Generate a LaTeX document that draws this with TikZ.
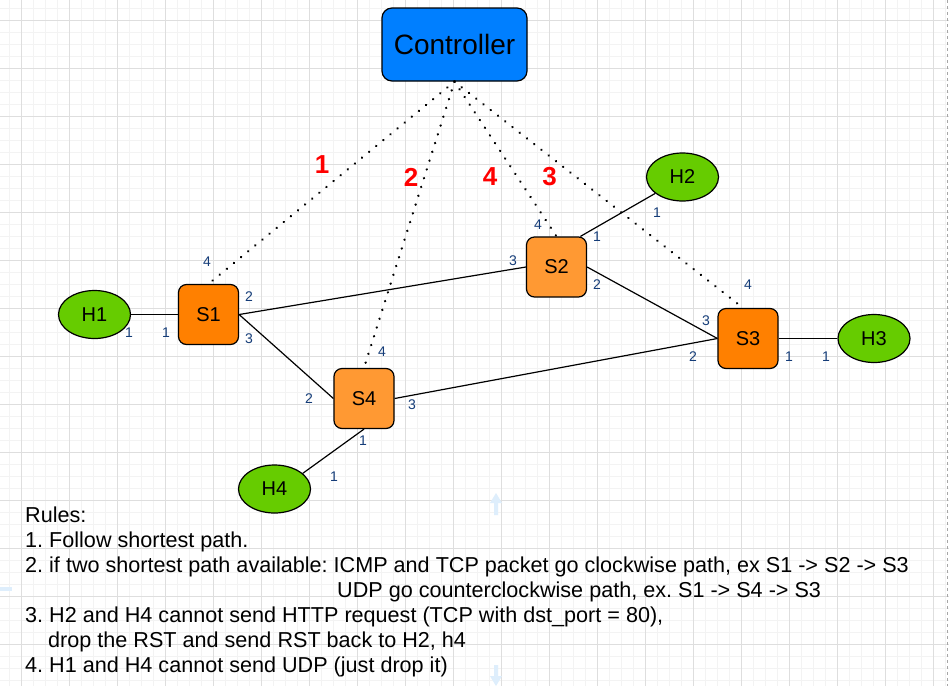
\documentclass[tikz,border=0pt]{standalone}
\usepackage{fontspec}
\setmainfont{Liberation Sans}
\usetikzlibrary{shapes.geometric,calc}
\definecolor{ctrlblue}{RGB}{0,127,255}
\definecolor{swdark}{RGB}{255,128,0}
\definecolor{swlight}{RGB}{255,153,51}
\definecolor{hostgreen}{RGB}{102,204,0}
\definecolor{portblue}{RGB}{20,60,120}
\definecolor{gridmajor}{RGB}{222,222,222}
\definecolor{gridminor}{RGB}{243,243,243}
\definecolor{ghostblue}{RGB}{222,238,252}
\tikzset{
  swbox/.style={rectangle, rounded corners=8pt, draw=black, line width=1.2pt,
    minimum width=60pt, minimum height=60pt, inner sep=0pt,
    font=\fontsize{20}{24}\selectfont},
  host/.style={ellipse, draw=black, line width=1.2pt, fill=hostgreen,
    minimum width=72pt, minimum height=48pt, inner sep=0pt,
    font=\fontsize{20}{24}\selectfont},
  port/.style={font=\fontsize{14}{16}\selectfont, text=portblue, inner sep=0pt},
  link/.style={draw=black, line width=1.2pt},
  ctlink/.style={draw=black, line width=2.6pt, dash pattern=on 0.01pt off 9.2pt, line cap=round},
  order/.style={font=\bfseries\fontsize{26}{30}\selectfont, text=red, inner sep=0pt},
  rule/.style={anchor=base west, inner sep=0pt, font=\fontsize{21.6}{25}\selectfont},
}
\begin{document}
\frenchspacing
\begin{tikzpicture}[x=1pt,y=-1pt]
\useasboundingbox (0,0) rectangle (949,686);
\fill[white] (0,0) rectangle (949,686);
% grid
\foreach \x in {9,21,...,945} \draw[gridminor, line width=1pt] (\x,0) -- (\x,686);
\foreach \y in {8,20,...,686} \draw[gridminor, line width=1pt] (0,\y) -- (949,\y);
\foreach \x in {21,69,...,945} \draw[gridmajor, line width=1pt] (\x,0) -- (\x,686);
\foreach \y in {20,68,...,686} \draw[gridmajor, line width=1pt] (0,\y) -- (949,\y);
\draw[gray!70, line width=1pt, dash pattern=on 3pt off 3pt] (947,0) -- (947,686);
% ghost arrows
\fill[ghostblue] (496,493) -- (502,503) -- (498,503) -- (498,515) -- (494,515) -- (494,503) -- (490,503) -- cycle;
\fill[ghostblue] (496,686) -- (502,676) -- (498,676) -- (498,665) -- (494,665) -- (494,676) -- (490,676) -- cycle;
\fill[ghostblue] (0,587) rectangle (12,591);

% nodes
\node[rectangle, rounded corners=10pt, draw=black, line width=1.2pt, fill=ctrlblue,
  minimum width=145pt, minimum height=73pt, inner sep=0pt,
  font=\fontsize{28}{32}\selectfont] (C) at (454.5,44.5) {Controller};
\node[swbox, fill=swdark]  (S1) at (208.5,314.5) {S1};
\node[swbox, fill=swlight] (S2) at (556.5,267) {S2};
\node[swbox, fill=swdark]  (S3) at (748,338.5) {S3};
\node[swbox, fill=swlight] (S4) at (364,398.5) {S4};
\node[host] (H1) at (94.5,314.5) {H1};
\node[host] (H2) at (682.5,177) {H2};
\node[host] (H3) at (874,338.5) {H3};
\node[host] (H4) at (274.5,489) {H4};

% links
\draw[link] (H1.east) -- (S1.west);
\draw[link] (S1.east) -- (S2.west);
\draw[link] (S1.east) -- (S4.west);
\draw[link] (S2.east) -- (S3.west);
\draw[link] (S4.east) -- (S3.west);
\draw[link] (S3.east) -- (H3.west);
\draw[link] (S2.52) -- (H2.211);
\draw[link] (S4.south) -- (H4.29);

% controller links
\draw[ctlink] (C.south) -- (S1.north);
\draw[ctlink] (C.south) -- (S4.north);
\draw[ctlink] (C.south) -- (S2.north);
\draw[ctlink] (C.south) -- ([xshift=-5pt]S3.north);

% order numbers
\node[order] (o1) at (322,165) {1};
\node[order] (o2) at (411,177) {2};
\node[order] (o4) at (490,177) {4};
\node[order] (o3) at (549.5,177) {3};

% port labels
\node[port] (pH1) at (129,333) {1};
\node[port] (pS1a) at (166,333) {1};
\node[port] (pS1b) at (249,297) {2};
\node[port] (pS1c) at (249,339) {3};
\node[port] (pS1d) at (207,262) {4};
\node[port] (pS2a) at (597,237) {1};
\node[port] (pS2b) at (597,285) {2};
\node[port] (pS2c) at (513,261) {3};
\node[port] (pS2d) at (538,225) {4};
\node[port] (pH2) at (657,213) {1};
\node[port] (pS3a) at (789,357) {1};
\node[port] (pS3b) at (693,357) {2};
\node[port] (pS3c) at (706,321) {3};
\node[port] (pS3d) at (748,285) {4};
\node[port] (pH3) at (826,357) {1};
\node[port] (pS4a) at (363,441) {1};
\node[port] (pS4b) at (309,399) {2};
\node[port] (pS4c) at (412,405) {3};
\node[port] (pS4d) at (382,352) {4};
\node[port] (pH4) at (334,477) {1};

% rules
\node[rule] (r0) at (25,522) {Rules:};
\node[rule] (r1) at (25,547) {1. Follow shortest path.};
\node[rule] (r2) at (25,572) {2. if two shortest path available: ICMP and TCP packet go clockwise path, ex S1 -> S2 -> S3};
\node[rule] (r2b) at (337,597) {UDP go counterclockwise path, ex. S1 -> S4 -> S3};
\node[rule] (r3) at (25,622) {3. H2 and H4 cannot send HTTP request (TCP with dst\_port = 80),};
\node[rule] (r3b) at (48,647) {drop the RST and send RST back to H2, h4};
\node[rule] (r4) at (25,672) {4. H1 and H4 cannot send UDP (just drop it)};
\end{tikzpicture}
\end{document}
